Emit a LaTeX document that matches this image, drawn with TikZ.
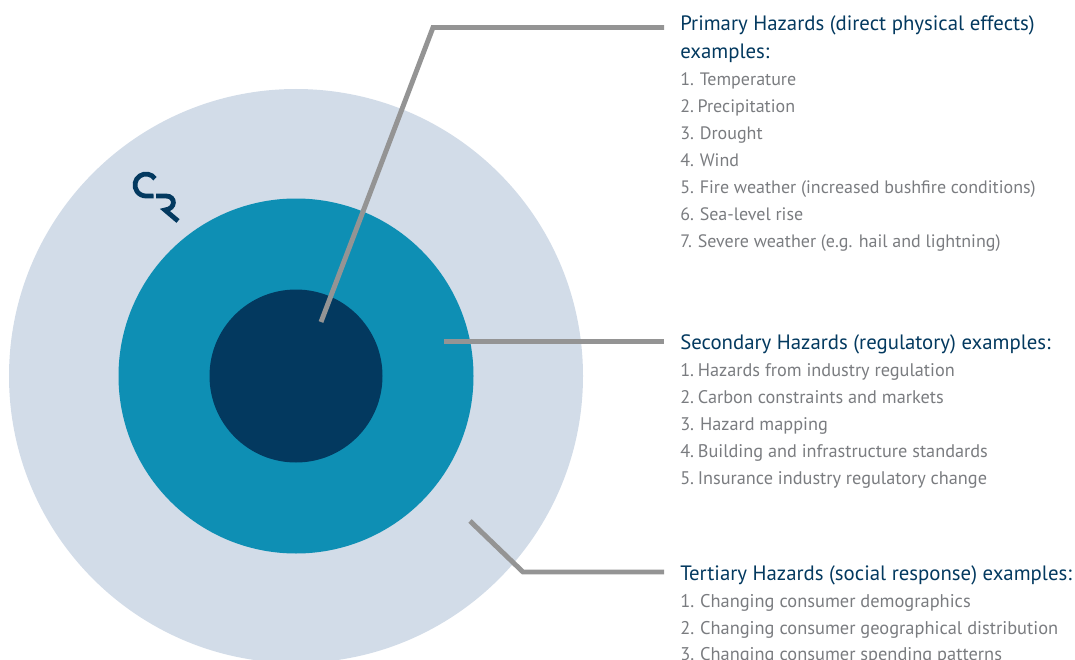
\documentclass[tikz,border=0pt]{standalone}
\usepackage{fontspec}
\setmainfont{PT Sans}
\definecolor{haloblue}{HTML}{D2DCE8}
\definecolor{midteal}{HTML}{0E8FB4}
\definecolor{corenavy}{HTML}{03395F}
\definecolor{leadgrey}{HTML}{949494}
\definecolor{listgrey}{HTML}{7A7C80}
\newcommand{\wide}{\kern4.4pt}
\newcommand{\tight}{\kern2.8pt}
\tikzset{
    lead/.style={draw=leadgrey, line width=3.7pt, line join=miter},
    head/.style={anchor=base west, inner sep=0pt, text=corenavy, font=\fontsize{15.6}{16}\selectfont},
    item/.style={anchor=base west, inner sep=0pt, text=listgrey, font=\fontsize{#1}{15}\selectfont},
    logo/.style={draw=corenavy, line width=3.6pt}
}
\begin{document}
\begin{tikzpicture}[x=0.75pt, y=-0.75pt]
    \useasboundingbox (0,0) rectangle (1075,660);
    \clip (0,0) rectangle (1075,660);
    % rings
    \fill[haloblue] (296,376) circle [radius=287];
    \fill[midteal] (296,376) circle [radius=177.5];
    \fill[corenavy] (296,376) circle [radius=86.5];
    % logo
    \draw[logo] (155,178.7) arc (-35:-270:11) -- (153.5,196);
    \draw[logo] (156,196) -- (166,196) .. controls (176,196) and (176,209) .. (165,210) -- (178,221);
    % headings
    \node[head] (primary) at (680,30.7) {Primary Hazards (direct physical effects)};
    \node[head] (primaryb) at (680,58.7) {examples:};
    \node[head] (secondary) at (680,349) {Secondary Hazards (regulatory) examples:};
    \node[head] (tertiary) at (680,580) {Tertiary Hazards (social response) examples:};
    % lists
    \foreach \y/\t in {85/{1.\wide Temperature}, 112.5/{2.\tight Precipitation}, 139/{3.\wide Drought}, 166.5/{4.\wide Wind},
        193/{5.\wide Fire weather (increased bushfire conditions)}, 220/{6.\wide Sea-level rise},
        247/{7.\wide Severe weather (e.g. hail and lightning)}}
        \node[item=13.5] (prim\y) at (680,\y) {\t};
    \foreach \y/\t in {376/{1.\tight Hazards from industry regulation}, 403/{2.\tight Carbon constraints and markets},
        430/{3.\wide Hazard mapping}, 457/{4.\tight Building and infrastructure standards},
        484/{5.\tight Insurance industry regulatory change}}
        \node[item=13.7] (sec\y) at (680,\y) {\t};
    \foreach \y/\t in {607/{1.\wide Changing consumer demographics}, 634/{2.\wide Changing consumer geographical distribution},
        660/{3.\wide Changing consumer spending patterns}}
        \node[item=13.8] (ter\y) at (680,\y) {\t};
    % leader lines
    \coordinate (primaryend) at (664,27.5);
    \coordinate (secondaryend) at (664,341.5);
    \coordinate (tertiaryend) at (664,572);
    \coordinate (primaryin) at (321,322);
    \coordinate (secondaryin) at (444,341.5);
    \coordinate (tertiaryin) at (470,521);
    \draw[lead] (primaryin) -- (433,27.5) -- (primaryend);
    \draw[lead] (secondaryin) -- (secondaryend);
    \draw[lead] (tertiaryin) -- (523,572) -- (tertiaryend);
\end{tikzpicture}
\end{document}
